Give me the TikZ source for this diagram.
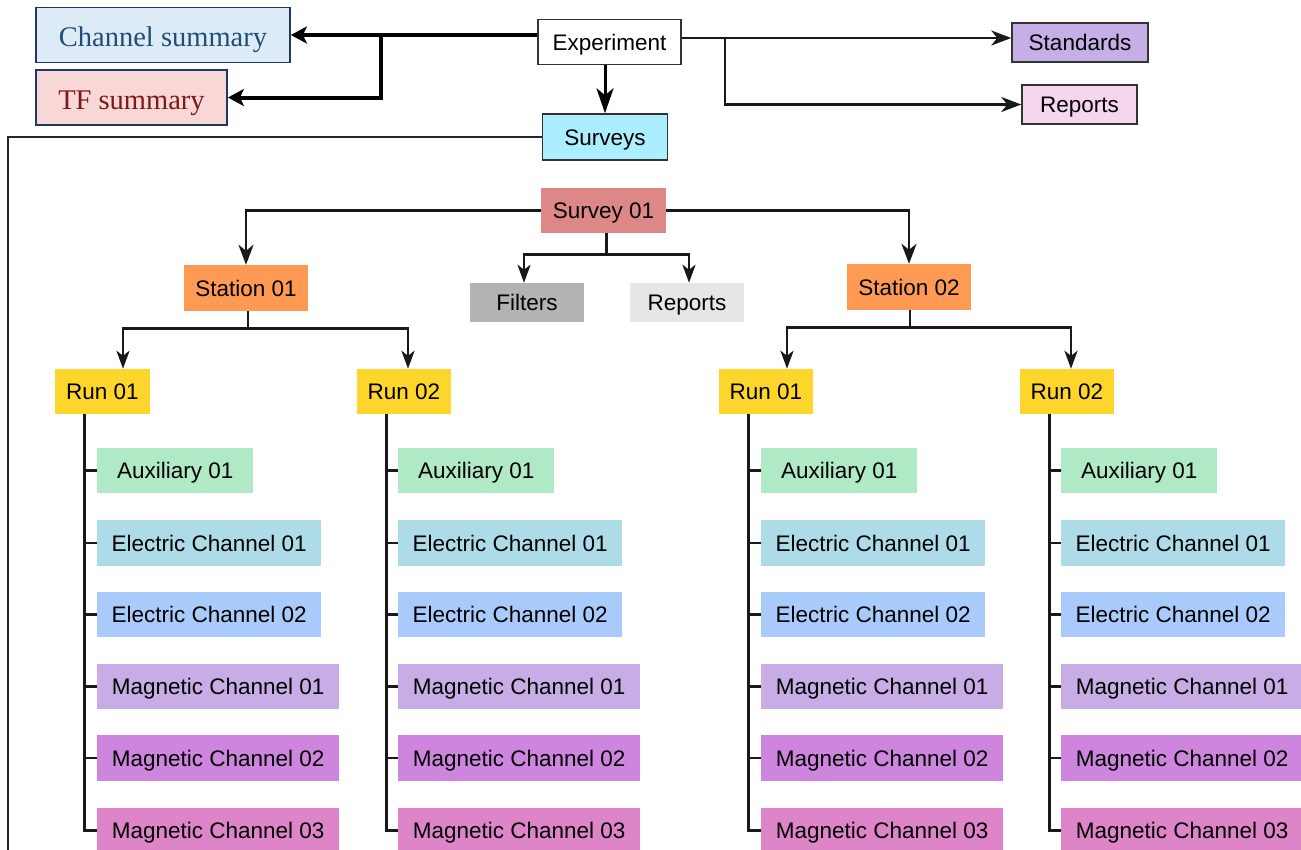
\documentclass[tikz,border=0pt]{standalone}
\usepackage{fontspec}
\setmainfont{Liberation Sans}
\newfontfamily\tnr{Liberation Serif}
\usetikzlibrary{arrows.meta}
\definecolor{csfill}{HTML}{DDEBF7}
\definecolor{cstext}{HTML}{1F4E79}
\definecolor{tffill}{HTML}{F8D7D6}
\definecolor{tftext}{HTML}{7B1A1A}
\definecolor{navy}{HTML}{1F3864}
\definecolor{csurveys}{HTML}{AAEEFF}
\definecolor{cstd}{HTML}{C6AEE6}
\definecolor{crep}{HTML}{F6D5EE}
\definecolor{csurv}{HTML}{DE8787}
\definecolor{cstat}{HTML}{FF9A55}
\definecolor{crun}{HTML}{FED52B}
\definecolor{cfilt}{HTML}{B3B3B3}
\definecolor{crep2}{HTML}{E6E6E6}
\definecolor{caux}{HTML}{AFE9C6}
\definecolor{ceone}{HTML}{ADDCE8}
\definecolor{cetwo}{HTML}{A9CBFB}
\definecolor{cmone}{HTML}{C7ACE6}
\definecolor{cmtwo}{HTML}{CE85DE}
\definecolor{cmthree}{HTML}{DE84C8}
\newcommand\fs{\fontsize{22.5}{27}\selectfont}
\begin{document}
\begin{tikzpicture}[x=1pt,y=-1pt,
  lbl/.style={rectangle, inner sep=0pt, font=\fs, text=black, text height=16pt, text depth=0pt},
  bord/.style={draw=black!80, line width=1.5pt},
  summ/.style={rectangle, inner sep=0pt, draw=navy, line width=1.8pt, font=\tnr\fontsize{28.5}{34}\selectfont, text height=23pt, text depth=0pt},
  tree/.style={line width=2.8pt, draw=black!90},
  arr/.style={tree, -{Stealth[length=20pt,width=15pt,inset=6pt]}},
  arrsm/.style={tree, -{Stealth[length=18pt,width=13pt,inset=5pt]}},
  arrbig/.style={line width=3pt, draw=black, -{Stealth[length=25pt,width=17pt,inset=7pt]}},
  bigarr/.style={line width=4pt, draw=black, -{Stealth[length=16pt,width=17pt,inset=4pt]}}
]
\useasboundingbox (0,0) rectangle (1301,849);

% top level
\node[summ, fill=csfill, text=cstext, minimum width=254, minimum height=55] (cs) at (163,35) {Channel summary};
\node[summ, fill=tffill, text=tftext, minimum width=191, minimum height=55] (tf) at (131.5,97.5) {TF summary};
\node[lbl, bord, fill=white, minimum width=143, minimum height=45] (exp) at (609.5,42) {Experiment};
\node[lbl, bord, fill=csurveys, minimum width=125, minimum height=46] (surveys) at (605,137) {Surveys};
\node[lbl, bord, fill=cstd, minimum width=136, minimum height=39] (std) at (1080,42.5) {Standards};
\node[lbl, bord, fill=crep, minimum width=115, minimum height=39] (rep) at (1079.5,104.5) {Reports};

% survey level
\node[lbl, fill=csurv, minimum width=125, minimum height=45] (s01) at (603.5,210.5) {Survey 01};
\node[lbl, fill=cstat, minimum width=124, minimum height=46] (st1) at (246,288) {Station 01};
\node[lbl, fill=cstat, minimum width=124, minimum height=46] (st2) at (909,287) {Station 02};
\node[lbl, fill=cfilt, minimum width=114, minimum height=39] (filt) at (527,302.5) {Filters};
\node[lbl, fill=crep2, minimum width=114, minimum height=39] (rep2) at (687,302.5) {Reports};

% runs
\node[lbl, fill=crun, minimum width=95, minimum height=45] (runa) at (102.5,391.5) {Run 01};
\node[lbl, fill=crun, minimum width=94, minimum height=45] (runb) at (404,391.5) {Run 02};
\node[lbl, fill=crun, minimum width=94, minimum height=45] (runc) at (766,391.5) {Run 01};
\node[lbl, fill=crun, minimum width=94, minimum height=45] (rund) at (1067,391.5) {Run 02};

% channels
\foreach \g/\bx in {a/97,b/398,c/761,d/1061} {
  \node[lbl, fill=caux, minimum width=156, minimum height=45, anchor=west] (aux\g) at (\bx,470.5) {Auxiliary 01};
  \node[lbl, fill=ceone, minimum width=224, minimum height=46, anchor=west] (eone\g) at (\bx,543) {Electric Channel 01};
  \node[lbl, fill=cetwo, minimum width=224, minimum height=45, anchor=west] (etwo\g) at (\bx,614.5) {Electric Channel 02};
  \node[lbl, fill=cmone, minimum width=242, minimum height=45, anchor=west] (mone\g) at (\bx,686.5) {Magnetic Channel 01};
  \node[lbl, fill=cmtwo, minimum width=242, minimum height=46, anchor=west] (mtwo\g) at (\bx,758) {Magnetic Channel 02};
  \node[lbl, fill=cmthree, minimum width=242, minimum height=46, anchor=west] (mthree\g) at (\bx,830.5) {Magnetic Channel 03};
  \draw[tree] ([xshift=30pt]run\g.south west) |- (mthree\g.west);
  \foreach \c in {aux,eone,etwo,mone,mtwo} {
    \draw[tree] (\c\g.west) -- ++(-12,0);
  }
}

% top connectors
\coordinate (br1) at (381,35);
\draw[bigarr] (cs.east -| exp.west) -- (cs.east);
\draw[bigarr] (br1) |- (tf.east);
\draw[arr] ([yshift=4pt]exp.east) -- ([yshift=4pt]exp.east -| std.west);
\coordinate (br2) at (725,38);
\draw[arr] (br2) |- (rep.west);
\draw[arrbig] (exp.south -| surveys.north) -- (surveys.north);
\coordinate (lb) at (8,860);
\draw[tree, draw=black!85] (surveys.west) -| (lb);

% survey connectors
\draw[arr] (s01.west) -| (st1.north);
\draw[arr] (s01.east) -| (st2.north);
\draw[tree] ([xshift=3pt]s01.south) -- ++(0,21) coordinate (sb);
\draw[arrsm] (sb) -| ([xshift=-3pt]filt.north);
\draw[arrsm] (sb) -| ([xshift=2pt]rep2.north);

% station connectors
\draw[tree] ([xshift=2pt]st1.south) -- ++(0,17) coordinate (sta);
\draw[arrsm] (sta) -| ([xshift=20.5pt]runa.north);
\draw[arrsm] (sta) -| ([xshift=4pt]runb.north);
\draw[tree] ([xshift=1pt]st2.south) -- ++(0,17) coordinate (stb);
\draw[arrsm] (stb) -| ([xshift=21pt]runc.north);
\draw[arrsm] (stb) -| ([xshift=4pt]rund.north);
\end{tikzpicture}
\end{document}
